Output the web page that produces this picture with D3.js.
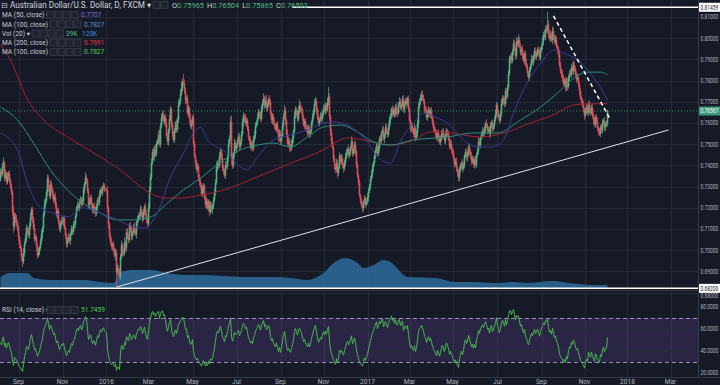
<!DOCTYPE html>
<html>
<head>
<meta charset="utf-8">
<script src="https://cdn.jsdelivr.net/npm/d3@7"></script>
<style>
html, body { margin: 0; padding: 0; background: #161a26; overflow: hidden; }
svg { display: block; font-family: Roboto, "DejaVu Sans", sans-serif; }
</style>
</head>
<body>
<div id="chart"></div>
<script>
const width = 720;
const height = 385;
const plotRight = 698;
const mainBottom = 290;
const rsiTop = 291;
const rsiBottom = 377;

// first bar is 2015-08-06, one bar per weekday
const startDate = "2015-08-06";

// closes before the first visible bar, only used to seed the RSI
const warmupCloses = [7398, 7372, 7355, 7402, 7385, 7352, 7318, 7295, 7312, 7288, 7305, 7342, 7368, 7315, 7332];

// daily closes in pips (0.0001)
const closes = [
  7372,7358,7395,7412,7340,7365,7322,7348,7362,7330,7298,7275,7180,7112,7165,7148,7128,7102,
  7062,7025,7008,6968,6945,6985,7032,7058,7105,7092,7070,7112,7155,7192,7148,7105,7052,7061,7018,6975,6992,7012,
  7042,7075,7102,7168,7215,7232,7275,7338,7292,7255,7310,7288,7265,7236,7252,7212,7168,7185,7135,7098,7122,7140,
  7135,7148,7105,7068,7030,7048,7062,7045,7078,7102,7085,7118,7125,7160,7195,7212,7198,7225,7240,7218,7232,
  7285,7312,7342,7328,7278,7212,7225,7248,7215,7185,7206,7198,7172,7205,7238,7225,7262,7284,7270,7295,7305,7290,7285,
  7280,7195,7122,7068,7035,7018,7028,7004,6975,6988,6895,6912,6905,6875,6968,7025,6992,6985,7035,7012,7085,
  7062,7048,7118,7098,7065,7082,7108,7092,7075,7128,7142,7165,7158,7192,7175,7148,7180,7205,7168,7142,7125,
  7198,7282,7345,7412,7462,7440,7478,7455,7502,7515,7545,7498,7585,7625,7640,7610,7628,7595,7538,7512,7565,7618,7665,
  7592,7548,7520,7562,7598,7568,7615,7685,7702,7738,7765,7795,7785,7752,7708,7715,7645,7668,7618,7585,7598,
  7625,7502,7445,7412,7382,7395,7342,7322,7305,7265,7288,7302,7248,7215,7232,7198,7225,7180,7212,7195,7208,7235,
  7272,7318,7392,7412,7398,7442,7468,7435,7388,7376,7352,7402,7395,7438,7502,7528,7605,7445,7398,7452,7505,7478,
  7495,7512,7535,7488,7512,7548,7602,7635,7622,7598,7612,7572,7532,7518,7485,7502,7478,7525,7545,7588,7602,
  7625,7652,7638,7618,7665,7692,7715,7682,7705,7672,7685,7712,7698,7645,7615,7632,7598,7585,7572,7595,7562,7528,7552,
  7512,7538,7585,7628,7658,7612,7548,7502,7518,7485,7478,7502,7528,7562,7635,7665,7642,7618,7658,7685,7668,7652,
  7625,7592,7608,7582,7568,7552,7578,7548,7562,7602,7625,7655,7688,7702,7665,7628,7598,7615,7632,7618,7648,
  7672,7655,7682,7665,7698,7725,7632,7558,7512,7485,7432,7398,7378,7412,7365,7392,7445,7418,7432,7402,7385,7412,
  7438,7462,7478,7448,7465,7485,7512,7455,7470,7498,7465,7402,7352,7318,7258,7232,7212,7198,7225,7245,7215,7232,
  7248,7278,7302,7335,7358,7392,7412,7445,7468,7492,7455,7482,7528,7515,7552,7568,7525,7545,7578,7558,7545,7582,
  7615,7632,7665,7642,7662,7638,7675,7652,7648,7688,7702,7672,7685,7712,7665,7695,7702,7688,7715,7668,
  7612,7575,7588,7562,7548,7575,7528,7552,7598,7675,7702,7712,7735,7718,7702,7665,7658,7625,7648,7665,7638,7655,7628,
  7602,7578,7565,7548,7528,7555,7532,7508,7525,7548,7562,7535,7518,7545,7562,7548,7525,7488,7502,7475,
  7462,7432,7405,7418,7385,7368,7342,7378,7395,7412,7385,7402,7445,7462,7438,7452,7488,7465,7442,7418,7432,7405,7425,
  7402,7448,7468,7512,7495,7528,7545,7562,7548,7575,7598,7585,7562,7572,7548,7585,7602,7572,7588,7615,7642,7685,
  7648,7628,7612,7645,7692,7718,7705,7688,7752,7725,7768,7832,7902,7915,7892,7935,7975,7948,7918,7985,7972,
  7992,7962,7932,7948,7915,7895,7928,7882,7862,7835,7815,7848,7872,7902,7885,7915,7938,7912,7925,7948,7932,7908,7942,
  7962,7988,8015,8005,8042,8038,8065,8022,7998,8012,7992,8035,8008,7982,7995,7962,7948,7925,7872,7845,7832,
  7812,7785,7802,7768,7795,7772,7815,7835,7828,7862,7845,7872,7855,7828,7805,7812,7782,7752,7718,7702,7685,7665,
  7635,7658,7672,7648,7692,7665,7648,7672,7638,7612,7592,7628,7605,7575,7562,7548,7582,7565,7598,7612,7578,7595,7597,7657
];

// upper / lower wick beyond the body, in units of 5 pips
const upWick = [
  3,2,4,5,2,3,1,4,2,3,2,3,2,6,3,2,4,2,3,2, 4,2,3,5,2,4,3,2,3,4,5,2,3,2,4,3,2,3,4,2,
  3,4,2,3,5,3,2,4,3,2,4,3,2,3,2,4,3,2,3,2, 2,3,4,2,3,2,3,2,4,3,2,3,2,4,3,2,3,4,2,3,
  3,2,4,3,2,5,3,2,3,4,2,3,2,3,4,2,3,2,3,4, 2,3,2,3,2,1,2,4,3,2,3,4,2,3,2,4,3,5,3,2,
  3,4,2,3,5,2,3,4,3,2,3,4,2,3,5,2,3,4,2,3, 4,3,2,3,2,4,3,2,5,4,3,4,3,5,3,4,3,2,4,5,
  3,4,3,4,2,3,5,3,2,4,3,2,3,4,3,2,4,3,5,3, 4,6,3,7,4,3,2,4,3,2,5,3,2,4,3,2,3,4,2,3,
  3,2,4,3,2,3,4,2,3,2,4,3,2,3,4,3,5,3,2,4, 3,2,4,3,2,4,3,3,4,3,5,6,3,2,4,3,2,3,4,3,
  2,3,4,3,2,4,3,2,3,2,4,3,2,3,4,3,2,4,3,2, 3,4,3,5,3,4,6,3,2,4,3,2,3,2,4,3,2,3,2,4,
  3,2,4,3,5,3,2,4,3,2,3,4,3,2,4,3,2,3,4,5, 3,2,4,3,2,3,2,4,3,2,3,2,4,3,5,4,3,2,3,2,
  4,3,2,3,4,3,2,4,9,3,2,3,4,2,3,2,4,3,2,3, 2,4,3,2,3,4,3,2,4,3,2,5,3,2,3,4,2,3,2,3,
  2,3,4,2,3,2,3,4,3,2,3,4,3,2,4,3,2,3,4,2, 3,2,4,3,2,3,4,2,3,4,3,2,4,3,2,3,4,3,2,4,
  3,2,3,4,2,3,4,2,3,2,4,3,2,3,4,2,3,3,4,3, 5,3,4,3,2,3,4,2,3,2,3,4,2,3,2,3,4,2,3,2,
  3,4,2,3,2,4,3,2,3,2,4,3,2,3,2,3,4,2,3,4, 3,2,4,3,2,3,4,3,2,3,2,4,3,2,3,4,2,3,4,3,
  2,3,4,2,3,2,4,3,2,3,4,2,3,2,3,4,3,2,3,2, 3,4,3,2,4,3,2,3,4,3,2,4,3,4,3,2,4,3,5,3,
  3,2,4,3,2,3,4,3,2,3,2,4,3,2,3,4,3,2,3,4, 3,2,4,3,5,3,4,12,4,3,5,3,4,3,2,4,3,2,3,4,
  3,2,4,3,2,3,4,3,2,3,4,3,5,4,3,2,3,4,3,2, 3,2,3,4,2,3,4,3,2,3,2,3,4,2,3,2,3,4,2,3,
  2,3,4,2,3,2,3,1
];
const dnWick = [
  2,3,2,4,3,2,3,2,4,3,2,3,4,6,3,4,3,2,4,3, 3,4,5,2,3,2,4,3,2,3,2,3,4,2,3,2,4,3,2,3,
  2,3,4,3,2,3,2,4,3,2,3,2,4,3,2,3,2,4,3,2, 3,2,3,4,2,3,4,3,2,3,4,2,3,2,3,4,2,3,2,3,
  2,3,2,3,4,2,3,2,3,4,2,3,2,3,4,3,2,3,2,3, 3,2,3,2,3,1,2,3,4,3,2,3,4,3,2,5,14,3,4,2,
  3,2,4,3,2,3,4,2,3,2,3,4,3,2,3,2,4,3,2,3, 2,3,4,2,3,2,3,4,2,3,2,3,2,3,4,2,3,2,3,2,
  3,2,3,2,4,3,2,3,4,3,2,3,4,2,3,2,3,2,3,2, 3,2,3,2,3,4,3,2,3,4,2,3,2,3,2,4,3,2,3,4,
  3,2,3,4,2,3,4,2,3,4,2,3,5,3,2,3,2,4,3,2, 3,2,3,4,2,3,2,3,4,3,2,8,3,2,3,2,4,3,2,3,
  2,3,2,4,3,2,3,2,3,4,3,2,3,2,3,4,2,3,2,3, 3,2,3,2,3,2,4,3,2,3,2,3,4,2,3,2,3,2,4,3,
  2,3,2,3,2,4,3,2,3,4,3,2,3,4,2,3,2,3,2,3, 3,2,3,2,4,3,2,3,2,4,3,2,3,2,3,2,4,3,2,3,
  2,3,2,3,2,3,4,2,3,3,4,3,2,3,4,3,2,5,3,2, 3,2,3,4,2,3,2,3,2,3,4,2,3,2,3,4,3,2,3,2,
  3,2,4,3,2,3,2,3,4,2,3,2,3,4,2,3,2,3,2,3, 3,2,3,2,4,3,2,3,2,3,4,2,3,2,3,2,3,4,2,3,
  2,3,2,3,4,2,3,2,3,2,4,3,2,3,4,3,2,3,4,2, 3,2,3,2,4,3,2,3,4,2,3,2,3,4,2,3,2,3,4,2,
  3,2,3,2,3,4,2,3,2,3,2,4,3,2,3,2,3,4,4,3, 2,3,4,2,3,2,3,4,2,3,2,3,2,3,4,2,3,2,3,2,
  3,2,3,2,3,4,2,3,2,4,3,2,3,2,3,2,3,4,2,3, 2,3,2,4,3,2,3,2,3,2,4,3,2,3,2,4,3,2,3,2,
  3,2,3,2,4,3,2,3,4,3,2,3,2,3,4,2,3,2,3,2, 3,2,3,4,2,3,2,3,4,2,3,2,4,3,2,3,2,4,3,2,
  3,4,3,2,3,4,3,4,2,3,2,3,2,4,3,2,3,2,3,4, 2,3,2,3,4,2,3,2,3,4,3,2,3,4,2,3,2,3,4,2,
  3,2,3,2,4,3,2,3
];

// moving averages: [bar, price]
const ma50 = [[0,0.7553],[17,0.7473],[27,0.7317],[40,0.7200],[53,0.7175],[67,0.7157],[83,0.7200],[100,0.7175],
  [117,0.7143],[133,0.7110],[143,0.7105],[157,0.7175],[170,0.7345],[183,0.7458],[193,0.7553],[200,0.7580],
  [207,0.7520],[223,0.7470],[240,0.7393],[247,0.7380],[257,0.7440],[273,0.7520],[290,0.7544],[307,0.7567],
  [323,0.7600],[333,0.7605],[347,0.7590],[357,0.7558],[367,0.7510],[377,0.7440],[390,0.7410],[400,0.7515],
  [413,0.7600],[423,0.7647],[437,0.7624],[447,0.7600],[463,0.7520],[477,0.7487],[490,0.7487],[503,0.7520],
  [513,0.7647],[523,0.7756],[540,0.7880],[553,0.7944],[563,0.7930],[577,0.7897],[587,0.7850],[597,0.7789],[607,0.7708]];
const ma100 = [[0,0.7675],[17,0.7614],[33,0.7505],[50,0.7378],[67,0.7284],[83,0.7220],[100,0.7175],[117,0.7143],
  [133,0.7143],[150,0.7156],[167,0.7223],[183,0.7284],[200,0.7340],[223,0.7425],[240,0.7473],[257,0.7496],
  [273,0.7505],[290,0.7487],[307,0.7534],[323,0.7581],[340,0.7590],[357,0.7558],[373,0.7510],[390,0.7496],
  [413,0.7520],[447,0.7534],[473,0.7553],[497,0.7553],[520,0.7614],[540,0.7675],[557,0.7741],[570,0.7800],
  [587,0.7840],[600,0.7840],[607,0.7827]];
const ma200 = [[0,0.7970],[10,0.7897],[27,0.7710],[43,0.7615],[67,0.7534],[100,0.7440],[120,0.7378],[140,0.7300],
  [153,0.7260],[167,0.7246],[180,0.7246],[200,0.7260],[223,0.7284],[257,0.7346],[290,0.7410],[323,0.7473],
  [347,0.7530],[373,0.7510],[390,0.7496],[413,0.7520],[430,0.7558],[447,0.7555],[480,0.7534],[507,0.7558],
  [530,0.7600],[553,0.7638],[573,0.7685],[587,0.7690],[607,0.7691]];

// volume moving average, thousands: [bar, value]
const volMa = [[0,343],[10,457],[27,457],[33,314],[50,257],[83,257],[100,200],[113,171],[120,486],[133,543],
  [150,543],[167,457],[183,400],[200,400],[223,371],[240,343],[273,343],[290,314],[307,257],[323,457],[333,743],
  [345,886],[357,743],[363,600],[373,686],[383,829],[390,771],[407,343],[435,314],[455,200],[474,200],[494,171],
  [514,200],[526,171],[553,229],[569,171],[593,114],[607,114]];

const timeLabels = ["Sep","Nov","2016","Mar","May","Jul","Sep","Nov","2017","Mar","May","Jul","Sep","Nov","2018","Mar"];
const timeTickDates = ["2015-09-01","2015-11-02","2016-01-01","2016-03-01","2016-05-02","2016-07-01","2016-09-01",
  "2016-11-01","2017-01-02","2017-03-01","2017-05-01","2017-07-03","2017-09-01","2017-11-01","2018-01-01","2018-03-01"];
const priceTicks = [0.68,0.69,0.70,0.71,0.72,0.73,0.74,0.75,0.76,0.77,0.78,0.79,0.80,0.81];
const rsiTicks = [20, 40, 60, 80];
const rsiBand = [70, 30];

const horizontalLines = [0.81459, 0.682];
const lastPrice = 0.76567;
const supportLine = [[116, 0.6826], [668, 0.7567]];
const resistanceLine = [[553, 0.8105], [609, 0.7624]];

const colors = {
    bg: "#161a26", grid: "#262b39", axisText: "#b2b5be",
    up: "#53b987", down: "#eb4d5c",
    ma50: "#3d3b92", ma100: "#2a8f80", ma200: "#a8212d",
    vol: "#2d6c9b", rsi: "#48b54f"
};

function barIndex(dateStr) {
    const d0 = new Date(startDate + "T00:00:00Z");
    const d1 = new Date(dateStr + "T00:00:00Z");
    let n = 0;
    for (const d = new Date(d0); d < d1; d.setUTCDate(d.getUTCDate() + 1)) {
        const wd = d.getUTCDay();
        if (wd !== 0 && wd !== 6) n++;
    }
    return n;
}

function computeRsi(series, period) {
    const out = new Array(series.length).fill(null);
    let gain = 0, loss = 0;
    for (let i = 1; i <= period; i++) {
        const d = series[i] - series[i - 1];
        if (d > 0) gain += d; else loss -= d;
    }
    gain /= period;
    loss /= period;
    out[period] = 100 - 100 / (1 + gain / loss);
    for (let i = period + 1; i < series.length; i++) {
        const d = series[i] - series[i - 1];
        gain = (gain * (period - 1) + Math.max(d, 0)) / period;
        loss = (loss * (period - 1) + Math.max(-d, 0)) / period;
        out[i] = loss === 0 ? 100 : 100 - 100 / (1 + gain / loss);
    }
    return out;
}

// build OHLC bars
const candles = closes.map((c, i) => {
    const open = i === 0 ? warmupCloses[warmupCloses.length - 1] : closes[i - 1];
    return {
        i,
        open: open / 10000,
        close: c / 10000,
        high: (Math.max(open, c) + upWick[i] * 5) / 10000,
        low: (Math.min(open, c) - dnWick[i] * 5) / 10000
    };
});
const rsiAll = computeRsi(warmupCloses.concat(closes), 14);
const rsiData = closes.map((c, i) => ({i, v: rsiAll[i + warmupCloses.length]}));

// scales
const x = d3.scaleLinear().domain([0, 697]).range([0.5, 697.5]);
const y = d3.scaleLinear().domain([0.68, 0.81]).range([292.6, 17]);
const yRsi = d3.scaleLinear().domain([20, 80]).range([373, 307]);
const yVol = d3.scaleLinear().domain([0, 1000]).range([289, 254]);

const svg = d3.select("#chart").append("svg").attr("width", width).attr("height", height);
svg.append("rect").attr("width", width).attr("height", height).attr("fill", colors.bg);

const defs = svg.append("defs");
defs.append("clipPath").attr("id", "clipMain").append("rect")
    .attr("x", 0).attr("y", 0).attr("width", plotRight).attr("height", mainBottom);
defs.append("clipPath").attr("id", "clipRsi").append("rect")
    .attr("x", 0).attr("y", rsiTop).attr("width", plotRight).attr("height", rsiBottom - rsiTop);

const tickIdx = timeTickDates.map(barIndex);

// grid
const grid = svg.append("g").attr("stroke", colors.grid).attr("stroke-width", 1);
grid.selectAll(".vg").data(tickIdx).enter().append("line")
    .attr("x1", d => Math.round(x(d)) + 0.5).attr("x2", d => Math.round(x(d)) + 0.5)
    .attr("y1", 0).attr("y2", rsiBottom);
grid.selectAll(".hg").data(priceTicks).enter().append("line")
    .attr("x1", 0).attr("x2", plotRight)
    .attr("y1", d => Math.round(y(d)) + 0.5).attr("y2", d => Math.round(y(d)) + 0.5);

// main pane
const main = svg.append("g").attr("clip-path", "url(#clipMain)");

main.append("path")
    .datum(volMa)
    .attr("fill", colors.vol)
    .attr("fill-opacity", 0.85)
    .attr("d", d3.area().x(d => x(d[0])).y0(yVol(0)).y1(d => yVol(d[1])).curve(d3.curveMonotoneX));

const candleG = main.append("g");
candleG.selectAll("line").data(candles).enter().append("line")
    .attr("x1", d => x(d.i)).attr("x2", d => x(d.i))
    .attr("y1", d => y(d.high)).attr("y2", d => y(d.low))
    .attr("stroke", d => d.close >= d.open ? colors.up : colors.down)
    .attr("stroke-opacity", 0.7)
    .attr("stroke-width", 1);
candleG.selectAll("rect").data(candles).enter().append("rect")
    .attr("x", d => x(d.i) - 0.8)
    .attr("width", 1.6)
    .attr("y", d => y(Math.max(d.open, d.close)))
    .attr("height", d => Math.max(1, Math.abs(y(d.open) - y(d.close))))
    .attr("fill", d => d.close >= d.open ? colors.up : colors.down)
    .attr("fill-opacity", 0.92);

const maLine = d3.line().x(d => x(d[0])).y(d => y(d[1])).curve(d3.curveMonotoneX);
[[ma200, colors.ma200], [ma100, colors.ma100], [ma50, colors.ma50]].forEach(([data, c]) => {
    main.append("path").datum(data).attr("fill", "none").attr("stroke", c)
        .attr("stroke-width", 1).attr("d", maLine);
});

// last price line
main.append("line")
    .attr("x1", 0).attr("x2", plotRight)
    .attr("y1", y(lastPrice)).attr("y2", y(lastPrice))
    .attr("stroke", colors.up).attr("stroke-opacity", 0.7)
    .attr("stroke-dasharray", "1,2");

// drawings
main.selectAll(".hl").data(horizontalLines).enter().append("line")
    .attr("x1", 0).attr("x2", plotRight)
    .attr("y1", d => y(d)).attr("y2", d => y(d))
    .attr("stroke", "#ffffff").attr("stroke-width", 1.5);
main.append("line")
    .attr("x1", x(supportLine[0][0])).attr("y1", y(supportLine[0][1]))
    .attr("x2", x(supportLine[1][0])).attr("y2", y(supportLine[1][1]))
    .attr("stroke", "#e0e3eb").attr("stroke-width", 1);
main.append("line")
    .attr("x1", x(resistanceLine[0][0])).attr("y1", y(resistanceLine[0][1]))
    .attr("x2", x(resistanceLine[1][0])).attr("y2", y(resistanceLine[1][1]))
    .attr("stroke", "#ffffff").attr("stroke-width", 1.5).attr("stroke-dasharray", "4,3");

// RSI pane
const rsiG = svg.append("g").attr("clip-path", "url(#clipRsi)");
rsiG.append("rect")
    .attr("x", 0).attr("width", plotRight)
    .attr("y", yRsi(rsiBand[0])).attr("height", yRsi(rsiBand[1]) - yRsi(rsiBand[0]))
    .attr("fill", "#7e57c2").attr("fill-opacity", 0.2);
rsiG.selectAll(".rg").data([40, 60]).enter().append("line")
    .attr("x1", 0).attr("x2", plotRight)
    .attr("y1", d => Math.round(yRsi(d)) + 0.5).attr("y2", d => Math.round(yRsi(d)) + 0.5)
    .attr("stroke", colors.grid);
rsiG.selectAll(".rb").data(rsiBand).enter().append("line")
    .attr("x1", 0).attr("x2", plotRight)
    .attr("y1", d => Math.round(yRsi(d)) + 0.5).attr("y2", d => Math.round(yRsi(d)) + 0.5)
    .attr("stroke", "#9a8fb8").attr("stroke-dasharray", "4,3");
rsiG.append("path")
    .datum(rsiData.filter(d => d.v !== null))
    .attr("fill", "none").attr("stroke", colors.rsi).attr("stroke-width", 1)
    .attr("d", d3.line().x(d => x(d.i)).y(d => yRsi(d.v)));

// separators
const sep = svg.append("g").attr("stroke", "#363a47");
sep.append("line").attr("x1", 0).attr("x2", width).attr("y1", mainBottom + 0.5).attr("y2", mainBottom + 0.5);
sep.append("line").attr("x1", 0).attr("x2", width).attr("y1", rsiBottom + 0.5).attr("y2", rsiBottom + 0.5);
sep.append("line").attr("x1", plotRight + 0.5).attr("x2", plotRight + 0.5).attr("y1", 0).attr("y2", rsiBottom);

// axis labels are squeezed horizontally to fit the narrow price scale
function axisText(g, yPos, text, fill) {
    return g.append("text")
        .attr("transform", `translate(700.5,${yPos}) scale(0.76,1)`)
        .attr("font-size", 6.4).attr("fill", fill)
        .text(text);
}

const axisG = svg.append("g");
priceTicks.forEach(d => {
    // the bottom label sits just under the 0.68200 tag
    const yy = d === 0.68 ? 297.5 : y(d) + 2.3;
    axisText(axisG, yy, d3.format(".5f")(d), colors.axisText);
});
rsiTicks.forEach(d => axisText(axisG, yRsi(d) + 2.3, d3.format(".4f")(d), colors.axisText));

function priceTag(value, fill, textColor) {
    svg.append("rect").attr("x", plotRight + 1).attr("y", y(value) - 4.5)
        .attr("width", width - plotRight).attr("height", 9).attr("fill", fill);
    axisText(svg, y(value) + 2.3, d3.format(".5f")(value), textColor);
}
priceTag(lastPrice, "#3a9a7c", "#ffffff");
priceTag(horizontalLines[0], "#ffffff", "#131722");
priceTag(horizontalLines[1], "#ffffff", "#131722");

// time axis
svg.append("rect").attr("x", 0).attr("y", rsiBottom + 1).attr("width", width).attr("height", height - rsiBottom)
    .attr("fill", colors.bg);
svg.append("g").attr("font-size", 6.6).attr("fill", colors.axisText).attr("text-anchor", "middle")
    .selectAll("text").data(timeLabels).enter().append("text")
    .attr("x", (d, k) => x(tickIdx[k])).attr("y", 384)
    .text(d => d);

// legend
function iconBoxes(g, x0, yc) {
    for (let k = 0; k < 4; k++) {
        g.append("rect").attr("x", x0 + k * 8).attr("y", yc - 3.5).attr("width", 7).attr("height", 7)
            .attr("fill", "#1f2330").attr("stroke", "#3a3f4d").attr("stroke-width", 0.8);
    }
}

const legend = svg.append("g").attr("font-size", 6.6).attr("fill", "#c8cbd3");
legend.append("rect").attr("x", 0).attr("y", 0).attr("width", 292).attr("height", 11).attr("fill", colors.bg);
legend.append("text").attr("x", 1).attr("y", 8).attr("font-size", 8).text("⊟");
legend.append("text").attr("x", 10).attr("y", 8).attr("font-size", 8.2).attr("fill", "#d1d4dc")
    .text("Australian Dollar/U.S. Dollar, D, FXCM ▾");
for (let k = 0; k < 2; k++) {
    legend.append("rect").attr("x", 153 + k * 8).attr("y", 1.5).attr("width", 7).attr("height", 7)
        .attr("fill", "#1f2330").attr("stroke", "#3a3f4d").attr("stroke-width", 0.8);
}
const ohlc = legend.append("text").attr("x", 172).attr("y", 8).attr("font-size", 7.4);
[["O", "0.75965"], ["H", "0.76504"], ["L", "0.75865"], ["C", "0.76502"]].forEach(([k, v], n) => {
    ohlc.append("tspan").attr("fill", "#d1d4dc").attr("dx", n ? 3 : 0).text(k);
    ohlc.append("tspan").attr("fill", colors.up).text(v);
});

const legendRows = [
    {label: "MA (50, close) ▾", icons: 47, values: [["0.7707", "#7c6fd8"]]},
    {label: "MA (100, close) ▾", icons: 50, values: [["0.7827", "#5b8fc9"]]},
    {label: "Vol (20) ▾", icons: 32, values: [["39K", "#53b987"], ["120K", "#3f8fe0"]]},
    {label: "MA (200, close) ▾", icons: 50, values: [["0.7691", "#e53945"]]},
    {label: "MA (100, close) ▾", icons: 50, values: [["0.7827", "#4fcf50"]]}
];
legendRows.forEach((row, r) => {
    const yc = 15 + r * 9.2;
    legend.append("text").attr("x", 2).attr("y", yc + 2.4).text(row.label);
    iconBoxes(legend, row.icons, yc);
    let vx = row.icons + 34;
    row.values.forEach(([v, c]) => {
        legend.append("text").attr("x", vx).attr("y", yc + 2.4).attr("fill", c).text(v);
        vx += v.length * 4 + 4;
    });
});

// RSI legend
const rsiLegend = svg.append("g").attr("font-size", 6.6).attr("fill", "#c8cbd3");
rsiLegend.append("text").attr("x", 2).attr("y", 312.4).text("RSI (14, close) ▾");
iconBoxes(rsiLegend, 47, 310);
rsiLegend.append("text").attr("x", 81).attr("y", 312.4).attr("fill", "#4fcf50").text("51.7459");
</script>
</body>
</html>
